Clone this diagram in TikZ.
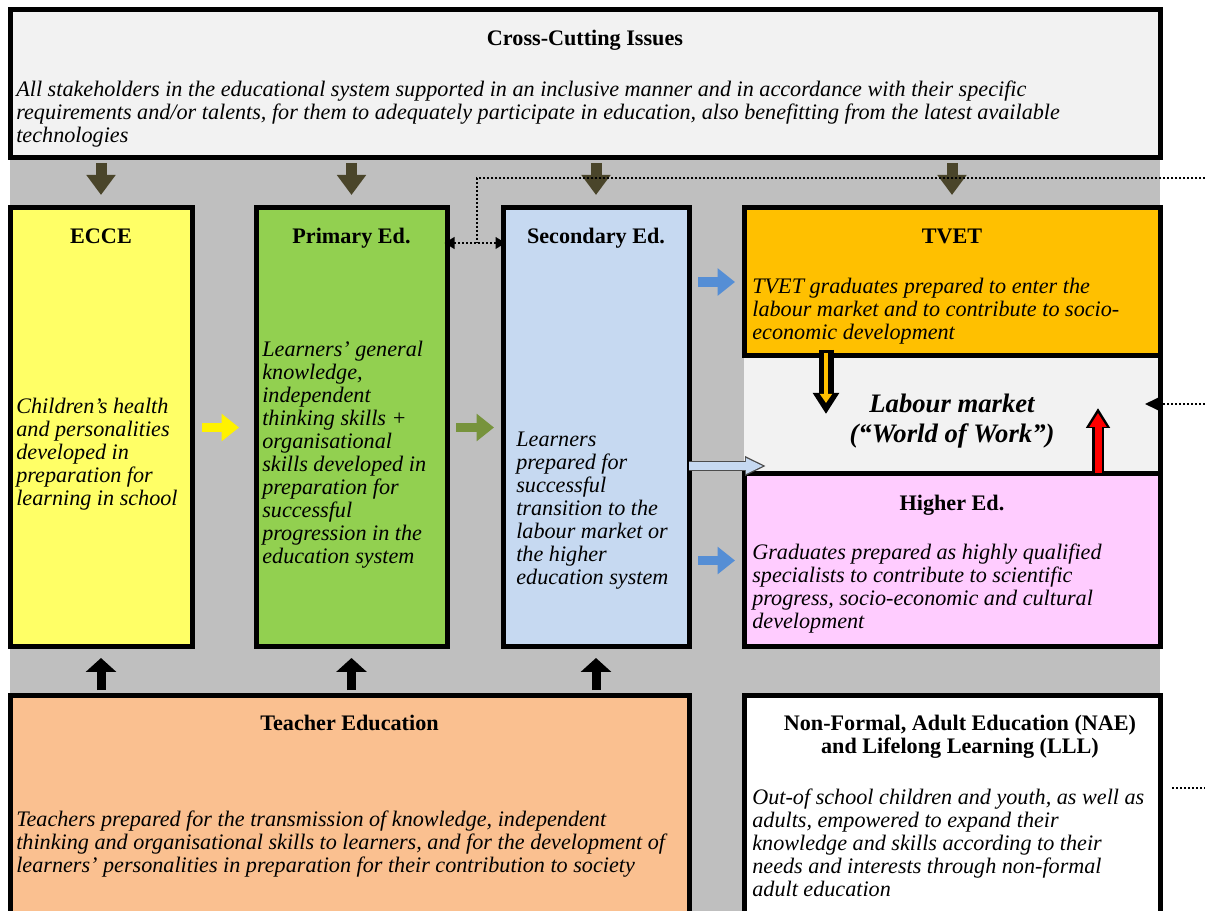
\documentclass[tikz,border=0pt]{standalone}
\usepackage{fontspec}
\setmainfont{Liberation Serif}
\usetikzlibrary{arrows.meta,calc,fit,positioning}
\definecolor{bggray}{HTML}{BFBFBF}
\definecolor{crossgray}{HTML}{F2F2F2}
\definecolor{ecceyellow}{HTML}{FFFF66}
\definecolor{primgreen}{HTML}{92D050}
\definecolor{secblue}{HTML}{C6D9F1}
\definecolor{tvetorange}{HTML}{FFC000}
\definecolor{highpink}{HTML}{FFCCFF}
\definecolor{teachpeach}{HTML}{FAC090}
\definecolor{darkolive}{HTML}{4A452A}
\definecolor{olivearr}{HTML}{77933C}
\definecolor{bluearr}{HTML}{558ED5}

\begin{document}
\begin{tikzpicture}[x=0.6pt,y=-0.6pt,
    box/.style={draw,line width=3pt,inner sep=0pt,outer sep=0pt},
    head/.style={font=\fontsize{13.3}{13.8}\selectfont\bfseries,anchor=base,inner sep=0pt},
    body/.style={font=\fontsize{13.3}{13.8}\selectfont\itshape,align=left,anchor=north west,inner sep=0pt},
    downarr/.style={draw=darkolive,line width=6.6pt,-{Triangle[length=12pt,width=16.8pt]},shorten <=3pt,shorten >=7.8pt},
    uparr/.style={draw=black,line width=5.4pt,-{Triangle[length=8.4pt,width=18pt]},shorten <=3pt,shorten >=6.6pt},
    sidearr/.style={line width=5.6pt,-{Triangle[length=10.5pt,width=16pt]},shorten <=5.4pt,shorten >=5.4pt},
    dotline/.style={line width=1.2pt,dash pattern=on 1.2pt off 1.2pt}]
    \useasboundingbox (0,0) rectangle (1205,911);
    \fill[bggray] (10,158) rectangle (1160,911);

    % boxes
    \node[box,fill=crossgray,fit={(10,10)(1160,158)}] (cross) {};
    \node[box,fill=ecceyellow,fit={(10,208)(192,647)}] (ecce) {};
    \node[box,fill=primgreen,fit={(256,208)(447,647)}] (prim) {};
    \node[box,fill=secblue,fit={(503,208)(689,647)}] (sec) {};
    \node[box,draw=none,fill=crossgray,fit={(744,356)(1160,474)}] (labour) {};
    \draw[line width=3pt] (labour.north east) -- (labour.south east);
    \node[box,fill=tvetorange,fit={(744,208)(1160,356)}] (tvet) {};
    \node[box,fill=highpink,fit={(744,474)(1160,647)}] (higher) {};
    \node[box,fill=teachpeach,fit={(10,695)(689,915)}] (teacher) {};
    \node[box,fill=white,fit={(744,695)(1160,915)}] (nae) {};

    % block arrows
    \foreach \b in {ecce,prim,sec,tvet}
        \draw[downarr] (\b.north |- cross.south) -- (\b.north);
    \foreach \b in {ecce,prim,sec}
        \draw[uparr] (\b.south |- teacher.north) -- (\b.south);
    \draw[sidearr,draw=yellow,shorten <=6pt,shorten >=10.2pt] (ecce.east) -- (prim.west);
    \draw[sidearr,draw=olivearr] (prim.east) -- (sec.west);
    \draw[sidearr,draw=bluearr] (sec.east |- tvet.west) -- (tvet.west);
    \draw[sidearr,draw=bluearr] (sec.east |- higher.west) -- (higher.west);

    % secondary into labour market
    \coordinate (lbin) at (766,466);
    \draw[line width=6pt,draw=black!70,-{Triangle[length=12.6pt,width=11pt]}] (sec.east |- lbin) -- (lbin);
    \draw[line width=4.6pt,draw=secblue,-{Triangle[length=10.4pt,width=8.8pt]},shorten >=1.7pt] (sec.east |- lbin) -- (lbin);

    % tvet and higher ed into labour market
    \draw[line width=9pt,-{Triangle[length=12.6pt,width=15pt]}] ($(tvet.south west)+(82,-6)$) -- ($(tvet.south west)+(82,58)$);
    \draw[line width=2.4pt,draw=tvetorange,-{Triangle[length=5.4pt,width=7pt]}] ($(tvet.south west)+(82,-3)$) -- ($(tvet.south west)+(82,47)$);
    \draw[line width=7.2pt,-{Triangle[length=12pt,width=13.8pt]}] ($(higher.north west)+(354,0)$) -- ($(higher.north west)+(354,-66)$);
    \draw[line width=4.2pt,draw=red,-{Triangle[length=8.4pt,width=9.9pt]}] ($(higher.north west)+(354,-1)$) -- ($(higher.north west)+(354,-61)$);

    % dotted links
    \coordinate (topfeed) at (1205,178);
    \coordinate (gate) at (477,243);
    \coordinate (sidefeed) at (1205,404);
    \coordinate (naefeed) at (1205,788);
    \draw[dotline] (topfeed) -| (gate);
    \draw[dotline,{Triangle[length=6pt,width=7pt]}-{Triangle[length=6pt,width=7pt]},shorten <=-1.5pt,shorten >=-1.5pt] (prim.east |- gate) -- (sec.west |- gate);
    \draw[dotline,-{Triangle[length=7.8pt,width=7.2pt]},shorten >=-9pt] (sidefeed) -- (labour.east |- sidefeed);
    \draw[dotline] ($(nae.east |- naefeed)+(12,0)$) -- (naefeed);

    % titles
    \node[head] at ($(cross.north)+(0,36)$) {Cross-Cutting Issues};
    \node[head] at ($(ecce.north)+(0,36)$) {ECCE};
    \node[head] at ($(prim.north)+(0,36)$) {Primary Ed.};
    \node[head] at ($(sec.north)+(0,36)$) {Secondary Ed.};
    \node[head] at ($(tvet.north)+(0,36)$) {TVET};
    \node[head] at ($(higher.north)+(0,37)$) {Higher Ed.};
    \node[head] at ($(teacher.north)+(0,35)$) {Teacher Education};
    \node[head,anchor=north,align=center] at ($(nae.north)+(8,20)$) {Non-Formal, Adult Education (NAE)\\and Lifelong Learning (LLL)};
    \node[font=\fontsize{16}{18}\selectfont\bfseries\itshape,align=center,anchor=north,inner sep=0pt] at (952,394) {Labour market\\(“World of Work”)};

    % texts
    \node[body] at (16,81) {All stakeholders in the educational system supported in an inclusive manner and in accordance with their specific\\requirements and/or talents, for them to adequately participate in education, also benefitting from the latest available\\technologies};
    \node[body] at (16,398) {Children’s health\\and personalities\\developed in\\preparation for\\learning in school};
    \node[body] at (262,341) {Learners’ general\\knowledge,\\independent\\thinking skills +\\organisational\\skills developed in\\preparation for\\successful\\progression in the\\education system};
    \node[body] at (516,432) {Learners\\prepared for\\successful\\transition to the\\labour market or\\the higher\\education system};
    \node[body] at (752,278) {TVET graduates prepared to enter the\\labour market and to contribute to socio-\\economic development};
    \node[body] at (752,544) {Graduates prepared as highly qualified\\specialists to contribute to scientific\\progress, socio-economic and cultural\\development};
    \node[body] at (16,811) {Teachers prepared for the transmission of knowledge, independent\\thinking and organisational skills to learners, and for the development of\\learners’ personalities in preparation for their contribution to society};
    \node[body] at (752,789) {Out-of school children and youth, as well as\\adults, empowered to expand their\\knowledge and skills according to their\\needs and interests through non-formal\\adult education};
\end{tikzpicture}
\end{document}
